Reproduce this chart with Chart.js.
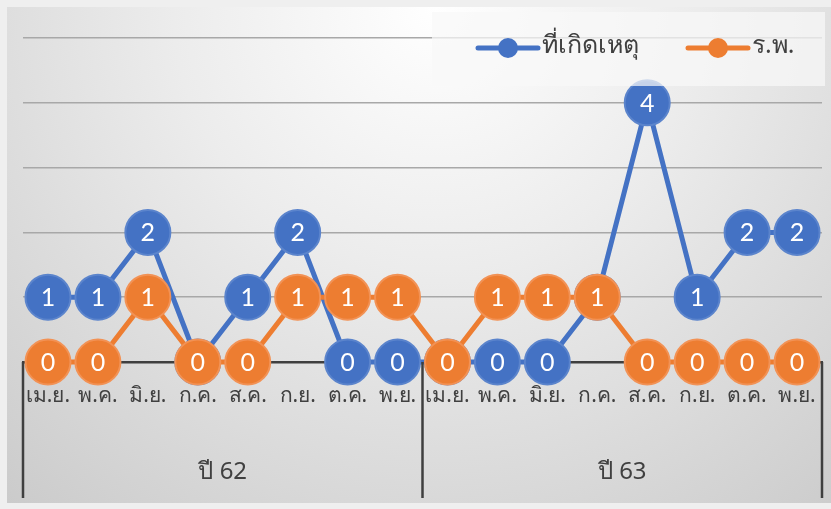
<!DOCTYPE html>
<html>
<head>
<meta charset="utf-8">
<script src="https://cdn.jsdelivr.net/npm/chart.js@4.4.0/dist/chart.umd.min.js"></script>
<style>
  body { margin: 0; background: #efefef; }
  #wrap { position: relative; width: 831px; height: 509px; background: #efefef; overflow: hidden; }
  #bg {
    position: absolute; left: 7px; top: 7px; width: 824px; height: 496px;
    background: radial-gradient(circle farthest-corner at 52% 0%, #ffffff 0%, #ececec 40%, #cbcbcb 100%);
  }
  #myChart { position: absolute; left: 0; top: 0; }
</style>
</head>
<body>
<div id="wrap">
  <div id="bg"></div>
  <canvas id="myChart" width="831" height="509"></canvas>
</div>
<script>
var months = ["เม.ย.", "พ.ค.", "มิ.ย.", "ก.ค.", "ส.ค.", "ก.ย.", "ต.ค.", "พ.ย."];
var categories = months.concat(months);
var yearLabels = ["ปี 62", "ปี 63"];
var sceneLabel = "ที่เกิดเหตุ";
var hospitalLabel = "ร.พ.";
var sceneValues = [1, 1, 2, 0, 1, 2, 0, 0, 0, 0, 0, 1, 4, 1, 2, 2];
var hospitalValues = [0, 0, 1, 0, 0, 1, 1, 1, 0, 1, 1, 1, 0, 0, 0, 0];

var BLUE = "#4472c4";
var ORANGE = "#ed7d31";
var THAI_FONT = "'Noto Sans', 'DejaVu Sans', sans-serif";

// numbers inside the markers, drawn right after each dataset so later markers cover them
var pointLabels = {
  id: "pointLabels",
  afterDatasetDraw: function (chart, args) {
    var ctx = chart.ctx;
    var ds = chart.data.datasets[args.index];
    ctx.save();
    ctx.fillStyle = "#ffffff";
    ctx.font = "25px Lato, 'Open Sans', sans-serif";
    ctx.textAlign = "center";
    ctx.textBaseline = "middle";
    args.meta.data.forEach(function (pt, i) {
      ctx.fillText(String(ds.data[i]), pt.x, pt.y + 1);
    });
    ctx.restore();
  },
};

// year separators below the axis
var yearDividers = {
  id: "yearDividers",
  afterDraw: function (chart) {
    var ctx = chart.ctx;
    var x = chart.scales.x;
    var area = chart.chartArea;
    var half = months.length;
    var xs = [
      area.left,
      (x.getPixelForValue(half - 1) + x.getPixelForValue(half)) / 2,
      area.right,
    ];
    ctx.save();
    ctx.strokeStyle = "#3f3f3f";
    ctx.lineWidth = 2.5;
    xs.forEach(function (px) {
      ctx.beginPath();
      ctx.moveTo(px, area.bottom);
      ctx.lineTo(px, chart.height - 11);
      ctx.stroke();
    });
    ctx.restore();
  },
};

// legend box sits over the plot in the top right corner
var overlayLegend = {
  id: "overlayLegend",
  afterDatasetsDraw: function (chart) {
    var ctx = chart.ctx;
    ctx.save();
    ctx.fillStyle = "rgba(248,248,248,0.72)";
    ctx.fillRect(432, 12, 393, 74);
    var items = [
      { color: BLUE, text: sceneLabel, x: 478 },
      { color: ORANGE, text: hospitalLabel, x: 688 },
    ];
    ctx.font = "25px " + THAI_FONT;
    ctx.textBaseline = "middle";
    items.forEach(function (it) {
      var y = 48;
      ctx.strokeStyle = it.color;
      ctx.lineWidth = 5;
      ctx.lineCap = "round";
      ctx.beginPath();
      ctx.moveTo(it.x, y);
      ctx.lineTo(it.x + 60, y);
      ctx.stroke();
      ctx.fillStyle = it.color;
      ctx.beginPath();
      ctx.arc(it.x + 30, y, 10, 0, Math.PI * 2);
      ctx.fill();
      ctx.fillStyle = "#404040";
      ctx.fillText(it.text, it.x + 64, y - 2);
    });
    ctx.restore();
  },
};

var ctx = document.getElementById("myChart").getContext("2d");

var myChart = new Chart(ctx, {
  type: "line",
  data: {
    labels: categories,
    datasets: [
      {
        label: sceneLabel,
        data: sceneValues,
        order: 1,
        borderColor: BLUE,
        backgroundColor: BLUE,
        borderWidth: 5,
        pointRadius: 22.5,
        pointBorderWidth: 2,
        pointBackgroundColor: BLUE,
        pointBorderColor: "#5b84cc",
        tension: 0,
        clip: false,
      },
      {
        label: hospitalLabel,
        data: hospitalValues,
        order: 0,
        borderColor: ORANGE,
        backgroundColor: ORANGE,
        borderWidth: 5,
        pointRadius: 22.5,
        pointBorderWidth: 2,
        pointBackgroundColor: ORANGE,
        pointBorderColor: "#f29255",
        tension: 0,
        clip: false,
      },
    ],
  },
  options: {
    responsive: false,
    animation: false,
    layout: {
      autoPadding: false,
      padding: { left: 23, right: 9, top: 38, bottom: 22 },
    },
    scales: {
      x: {
        type: "category",
        offset: true,
        grid: { display: false, drawTicks: false },
        border: { display: true, color: "#3f3f3f", width: 2.5 },
        ticks: {
          color: "#404040",
          font: { family: THAI_FONT, size: 21 },
          padding: 21,
          maxRotation: 0,
          autoSkip: false,
        },
        afterFit: function (scale) {
          scale.height = 47;
          scale.paddingLeft = 0;
          scale.paddingRight = 0;
        },
      },
      x2: {
        type: "category",
        labels: yearLabels,
        position: "bottom",
        offset: true,
        grid: { display: false, drawTicks: false },
        border: { display: false },
        ticks: {
          color: "#404040",
          font: { family: THAI_FONT, size: 24 },
          padding: 49,
          maxRotation: 0,
        },
        afterFit: function (scale) {
          scale.height = 78;
          scale.paddingLeft = 0;
          scale.paddingRight = 0;
        },
      },
      y: {
        min: 0,
        max: 5,
        ticks: { display: false, stepSize: 1 },
        grid: { color: "#a8a8a8", lineWidth: 1.5, drawTicks: false },
        border: { display: false },
      },
    },
    plugins: {
      legend: { display: false },
      tooltip: { enabled: false },
    },
  },
  plugins: [pointLabels, yearDividers, overlayLegend],
});
</script>
</body>
</html>
